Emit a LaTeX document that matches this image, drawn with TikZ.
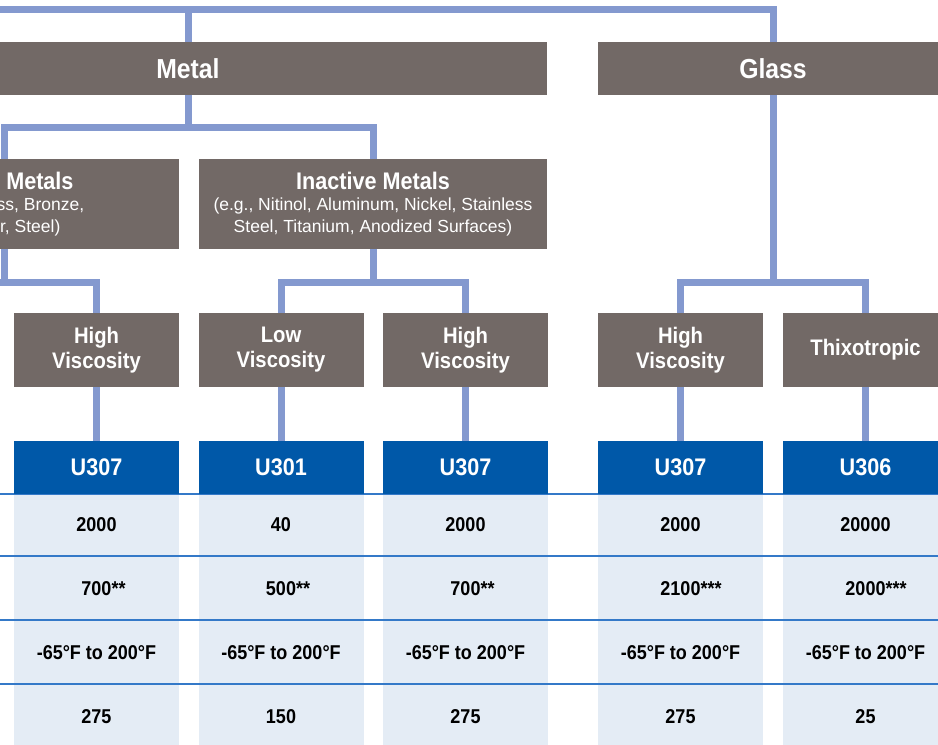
\documentclass[tikz,border=0pt]{standalone}
\usepackage{fontspec}
\setmainfont{Liberation Sans}
\newfontfamily\condfont{Liberation Sans}[FakeStretch=0.9]
\usetikzlibrary{calc}
\definecolor{boxG}{RGB}{114,105,102}
\definecolor{boxB}{RGB}{0,88,168}
\definecolor{linkB}{RGB}{132,153,207}
\definecolor{ruleB}{RGB}{52,121,200}
\definecolor{cellB}{RGB}{228,236,245}
\newcommand{\subnote}{\rmfamily\mdseries\fontsize{17.5}{21.5}\selectfont}
\tikzset{
  catbox/.style={fill=boxG,text=white,inner sep=0pt,align=center,font=\condfont\bfseries\fontsize{22.5}{25}\selectfont},
  groupbox/.style={catbox,minimum width=348,minimum height=90,font=\condfont\bfseries\fontsize{24}{21.5}\selectfont},
  prodbox/.style={fill=boxB,text=white,inner sep=0pt,minimum width=165,minimum height=53,font=\condfont\bfseries\fontsize{24}{28}\selectfont},
  valtext/.style={inner sep=0pt,font=\condfont\bfseries\fontsize{20}{24}\selectfont},
  link/.style={linkB,line width=7pt},
  rule/.style={ruleB,line width=1.5pt}
}

\begin{document}
\begin{tikzpicture}[x=1pt,y=-1pt]
\useasboundingbox (0,0) rectangle (938,745);
\clip (0,0) rectangle (938,745);
% data cells and row rules
\foreach \x in {96.5,281,465.5,680.5,865.5}
  \fill[cellB] (\x-82.5,494) rectangle (\x+82.5,760);
\foreach \y in {494,556,620,684}
  \draw[rule] (0,\y) -- (938,\y);
% substrate
\node[catbox,minimum width=718,minimum height=53,font=\condfont\bfseries\fontsize{27.5}{30}\selectfont] (metal) at (188,68.5) {Metal};
\node[catbox,minimum width=350,minimum height=53,font=\condfont\bfseries\fontsize{27.5}{30}\selectfont] (glass) at (773,68.5) {Glass};
% metal groups
\node[groupbox] (active) at (4.5,204) {Active Metals\\ \subnote (e.g., Brass, Bronze,\\ \subnote Copper, Steel)};
\node[groupbox] (inactive) at (373,204) {Inactive Metals\\ \subnote (e.g., Nitinol, Aluminum, Nickel, Stainless\\ \subnote Steel, Titanium, Anodized Surfaces)};
% viscosity
\node[catbox,minimum width=165,minimum height=74] (hvA) at (96.5,350) {High\\Viscosity};
\node[catbox,minimum width=165,minimum height=74] (lvB) at (281,350) {Low\\Viscosity};
\node[catbox,minimum width=165,minimum height=74] (hvC) at (465.5,350) {High\\Viscosity};
\node[catbox,minimum width=165,minimum height=74] (hvD) at (680.5,350) {High\\Viscosity};
\node[catbox,minimum width=165,minimum height=74] (thix) at (865.5,350) {Thixotropic};
% products
\node[prodbox] (uA) at (96.5,467.5) {U307};
\node[prodbox] (uB) at (281,467.5) {U301};
\node[prodbox] (uC) at (465.5,467.5) {U307};
\node[prodbox] (uD) at (680.5,467.5) {U307};
\node[prodbox] (uE) at (865.5,467.5) {U306};
% values
\foreach \x/\va/\vb/\vd [count=\i] in {96.5/2000/700\rlap{**}/275, 281/40/500\rlap{**}/150,
    465.5/2000/700\rlap{**}/275, 680.5/2000/2100\rlap{***}/275, 865.5/20000/2000\rlap{***}/25}{
  \node[valtext] (v\i a) at (\x,525) {\va};
  \node[valtext] (v\i b) at (\x,589) {\vb};
  \node[valtext] (v\i c) at (\x,653) {-65°F to 200°F};
  \node[valtext] (v\i d) at (\x,717) {\vd};
}
% connectors
\coordinate (topbar) at (-300,9);
\coordinate (metalbar) at (188,127);
\coordinate (offA) at (-88,282);
\coordinate (acbar) at (4.5,282);
\coordinate (inbar) at (373,282);
\coordinate (glbar) at (773,282);
\draw[link] (topbar) -| (glass);
\draw[link] (metal) -- (metal |- topbar);
\draw[link] (metal) -- (metalbar);
\draw[link] (active) |- (metalbar) -| (inactive);
\draw[link] (active) -- (acbar);
\draw[link] (offA) -| (hvA);
\draw[link] (inactive) -- (inbar);
\draw[link] (lvB) |- (inbar) -| (hvC);
\draw[link] (glass) -- (glbar);
\draw[link] (hvD) |- (glbar) -| (thix);
\foreach \a/\b in {hvA/uA,lvB/uB,hvC/uC,hvD/uD,thix/uE}
  \draw[link] (\a) -- (\b);
\end{tikzpicture}
\end{document}
